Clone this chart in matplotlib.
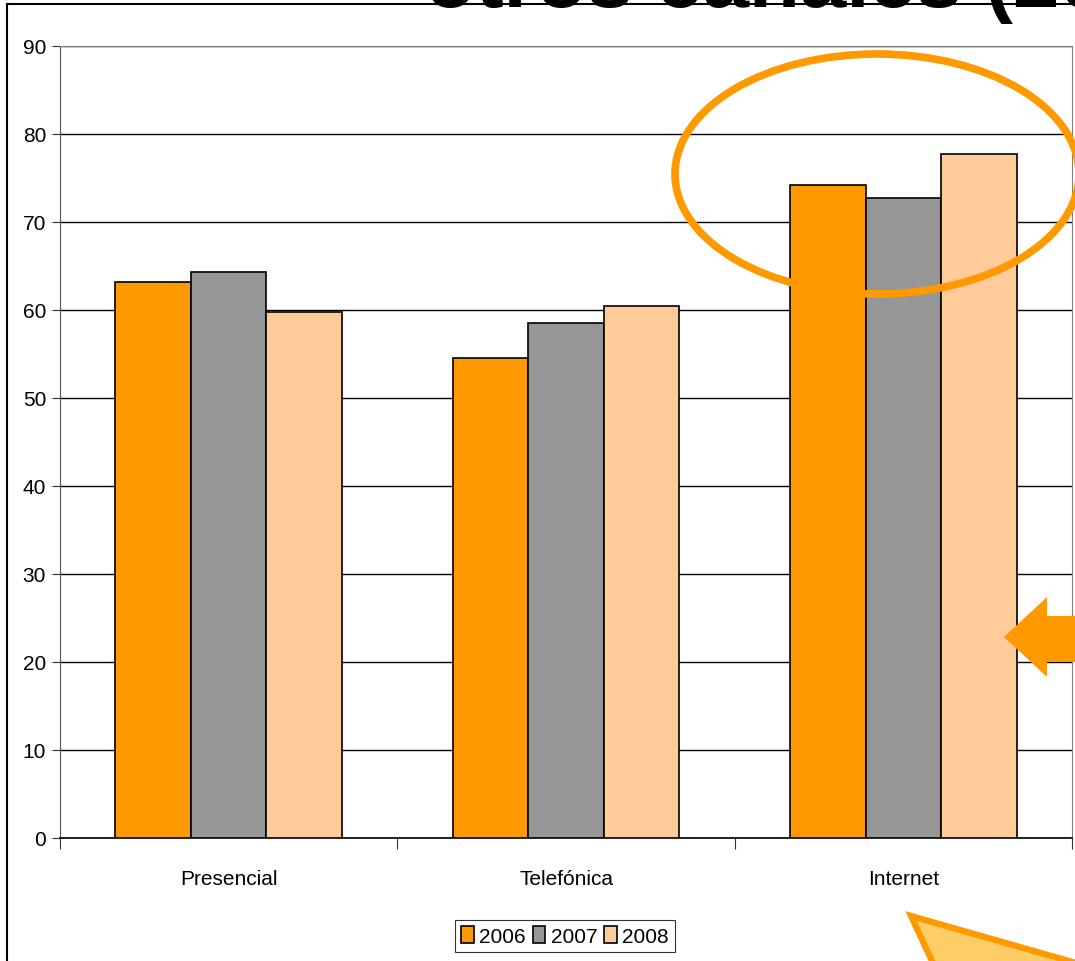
import numpy as np
import matplotlib.pyplot as plt
from matplotlib.patches import Ellipse, Polygon, Rectangle

plt.rcParams['font.family'] = ['Liberation Sans Narrow', 'Liberation Sans', 'DejaVu Sans']

categorias = ['Presencial', 'Telefónica', 'Internet']
anys = ['2006', '2007', '2008']
v2006 = [63.2, 54.5, 74.2]
v2007 = [64.3, 58.5, 72.7]
v2008 = [59.8, 60.5, 77.7]
colors = ['#FF9900', '#969696', '#FFCC99']

fig = plt.figure(figsize=(10.75, 9.62), dpi=100)
ax = fig.add_axes([60/1075, 1-839/962, 1012/1075, 792/962])

x = np.arange(len(categorias)) + 0.5
w = 0.224
for i, (vals, any_) in enumerate(zip([v2006, v2007, v2008], anys)):
    ax.bar(x + (i-1)*w, vals, w, color=colors[i], edgecolor='black', linewidth=1.2,
           label=any_, zorder=3)

ax.set_xlim(0, 3)
ax.set_ylim(0, 90)
ax.set_yticks(np.arange(0, 91, 10))
ax.yaxis.grid(True, color='black', linewidth=1, zorder=0)
ax.set_xticks([0, 1, 2, 3])
ax.set_xticklabels([])
ax.set_xticks(x, minor=True)
ax.set_xticklabels(categorias, minor=True)
ax.tick_params(axis='x', which='minor', length=0, pad=22, labelsize=15)
ax.tick_params(axis='x', which='major', length=8, color='#333333')
ax.tick_params(axis='y', length=6, labelsize=15, pad=4, color='#333333')
for s in ['top', 'right']:
    ax.spines[s].set_color('#808080')
ax.spines['left'].set_color('#555555')
ax.spines['bottom'].set_color('black')
ax.spines['bottom'].set_linewidth(1.2)

leg = ax.legend(loc='center', bbox_to_anchor=(565/1075, 1-937/962), bbox_transform=fig.transFigure,
                ncol=3, fontsize=15, frameon=True, fancybox=False, edgecolor='black',
                handlelength=0.6, handleheight=0.9, handletextpad=0.25, columnspacing=0.35,
                borderpad=0.3)
leg.get_frame().set_linewidth(0.8)

# marc exterior
fig.patches.append(Rectangle((7/1075, -0.05), 1.1, 1-5/962 + 0.05, transform=fig.transFigure,
                             fill=False, edgecolor='black', linewidth=1.5))

# titol (tallat a la part de dalt, com a l'original)
fig.text(425/1075, 1-7/962, 'otros canales (2006-2008)', fontsize=60, fontweight='bold',
         family='Liberation Sans', color='black', va='baseline', ha='left')

# el·lipse
ell = Ellipse((877/1075, 1-175/962), 404/1075, 240/962, transform=fig.transFigure,
              fill=False, edgecolor='#FF9900', linewidth=5.5, zorder=10)
fig.patches.append(ell)

# fletxa
fletxa = [(1004, 638), (1047, 598), (1047, 617), (1080, 617), (1080, 663), (1047, 663), (1047, 678)]
fig.patches.append(Polygon([(px/1075, 1-py/962) for px, py in fletxa], closed=True,
                           transform=fig.transFigure, facecolor='#FF9900', edgecolor='none', zorder=10))

# triangle
tri = [(911, 917), (1090, 968), (938, 975)]
fig.patches.append(Polygon([(px/1075, 1-py/962) for px, py in tri], closed=True,
                           transform=fig.transFigure, facecolor='#FFCC66', edgecolor='#FF9900',
                           linewidth=4.5, zorder=10))

fig.savefig('out.png', dpi=100)
